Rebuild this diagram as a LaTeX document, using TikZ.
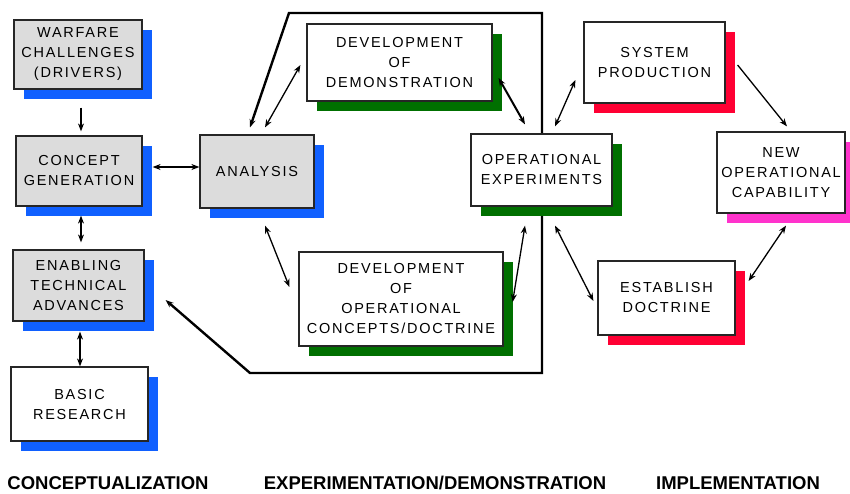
\documentclass[tikz,border=0pt]{standalone}
\usepackage{fontspec}
\setmainfont{Liberation Sans}
\newfontfamily\boxfont[LetterSpace=12]{Liberation Sans}
\usetikzlibrary{arrows.meta,shadows,backgrounds}

\definecolor{shblue}{HTML}{1060FF}
\definecolor{shgreen}{HTML}{007000}
\definecolor{shred}{HTML}{FF0033}
\definecolor{shpink}{HTML}{FF33CC}
\definecolor{boxgray}{HTML}{DCDCDC}

\tikzset{
  blk/.style={draw=black!85, line width=1.2pt, fill=white, align=center,
    inner sep=0pt, font=\boxfont\fontsize{14.5}{20}\selectfont},
  gray box/.style={blk, fill=boxgray},
  sh/.style={general shadow={fill=#1, shadow xshift=10pt, shadow yshift=-10pt}},
  tip/.tip={Stealth[length=8pt,width=6pt]},
  one/.style={-tip, line width=1.3pt},
  two/.style={tip-tip, line width=1.3pt},
  twothick/.style={tip-tip, line width=2pt},
  phase/.style={font=\bfseries\fontsize{18.5}{20}\selectfont},
}

\begin{document}
\begin{tikzpicture}[x=1pt,y=-1pt]
\useasboundingbox (0,0) rectangle (850,493);

% conceptualization column
\node[gray box, sh=shblue, minimum width=128pt, minimum height=69pt] (warfare) at (78,54.5)
  {WARFARE\\CHALLENGES\\(DRIVERS)};
\node[gray box, sh=shblue, minimum width=126pt, minimum height=70pt] (concept) at (79,171)
  {CONCEPT\\GENERATION};
\node[gray box, sh=shblue, minimum width=131pt, minimum height=71pt] (enabling) at (78.5,285.5)
  {ENABLING\\TECHNICAL\\ADVANCES};
\node[blk, sh=shblue, minimum width=137pt, minimum height=74pt] (basic) at (79.5,404)
  {BASIC\\RESEARCH};

% experimentation / demonstration
\node[gray box, sh=shblue, minimum width=114pt, minimum height=73pt] (analysis) at (257,171.5)
  {ANALYSIS};
\node[blk, sh=shgreen, minimum width=185pt, minimum height=77pt] (devdemo) at (399.5,62.5)
  {DEVELOPMENT\\OF\\DEMONSTRATION};
\node[blk, sh=shgreen, minimum width=141pt, minimum height=72pt] (opexp) at (541.5,170)
  {OPERATIONAL\\EXPERIMENTS};
\node[blk, sh=shgreen, minimum width=204pt, minimum height=94pt] (devops) at (401,299)
  {DEVELOPMENT\\OF\\OPERATIONAL\\CONCEPTS/DOCTRINE};

% implementation
\node[blk, sh=shred, minimum width=141pt, minimum height=81pt] (sysprod) at (654.5,62.5)
  {SYSTEM\\PRODUCTION};
\node[blk, sh=shpink, minimum width=128pt, minimum height=81pt] (newop) at (781,172.5)
  {NEW\\OPERATIONAL\\CAPABILITY};
\node[blk, sh=shred, minimum width=137pt, minimum height=74pt] (establish) at (666.5,298)
  {ESTABLISH\\DOCTRINE};

% frame around the experimentation loop, passing behind the boxes
\coordinate (f1) at (289,13);
\coordinate (f2) at (542,13);
\coordinate (f3) at (542,373);
\coordinate (f4) at (250,373);
\begin{pgfonlayer}{background}
\draw[tip-tip, line width=2.4pt]
  ([xshift=-7pt,yshift=7pt]analysis.north) -- (f1) -- (f2) -- (f3) -- (f4)
  -- ([xshift=21pt,yshift=-14.5pt]enabling.east);
\end{pgfonlayer}

% connectors
\draw[one] ([xshift=3pt,yshift=-18pt]warfare.south) -- ([xshift=2pt,yshift=4pt]concept.north);
\draw[twothick] ([xshift=10pt,yshift=4pt]concept.east) -- ([yshift=4.5pt]analysis.west);
\draw[two] ([xshift=2pt,yshift=-9pt]concept.south) -- ([xshift=2.5pt,yshift=7pt]enabling.north);
\draw[two] ([xshift=1.5pt,yshift=-10pt]enabling.south) -- ([xshift=0.5pt]basic.north);

\draw[two] ([xshift=8pt,yshift=7pt]analysis.north) -- ([xshift=-6pt,yshift=-2.5pt]devdemo.west);
\draw[twothick] ([xshift=6pt,yshift=-15.5pt]devdemo.east) -- ([xshift=-16.5pt,yshift=9pt]opexp.north);
\draw[two] ([xshift=8pt,yshift=-17pt]analysis.south) -- ([xshift=-9pt,yshift=12pt]devops.west);
\draw[two] ([xshift=-16.5pt,yshift=-19pt]opexp.south) -- ([xshift=9pt,yshift=-3pt]devops.east);

\draw[two] ([xshift=13.5pt,yshift=7pt]opexp.north) -- ([xshift=-8pt,yshift=-17.5pt]sysprod.west);
\draw[one] ([xshift=12pt,yshift=-2.5pt]sysprod.east) -- ([xshift=6pt,yshift=5pt]newop.north);
\draw[two] ([xshift=13.5pt,yshift=-19pt]opexp.south) -- ([xshift=-4pt,yshift=-3pt]establish.west);
\draw[two] ([xshift=5pt,yshift=-12pt]newop.south) -- ([xshift=13pt,yshift=17pt]establish.east);

% phase captions
\node[phase] (p1) at (108,483) {CONCEPTUALIZATION};
\node[phase] (p2) at (435,483) {EXPERIMENTATION/DEMONSTRATION};
\node[phase] (p3) at (738,483) {IMPLEMENTATION};
\end{tikzpicture}
\end{document}
